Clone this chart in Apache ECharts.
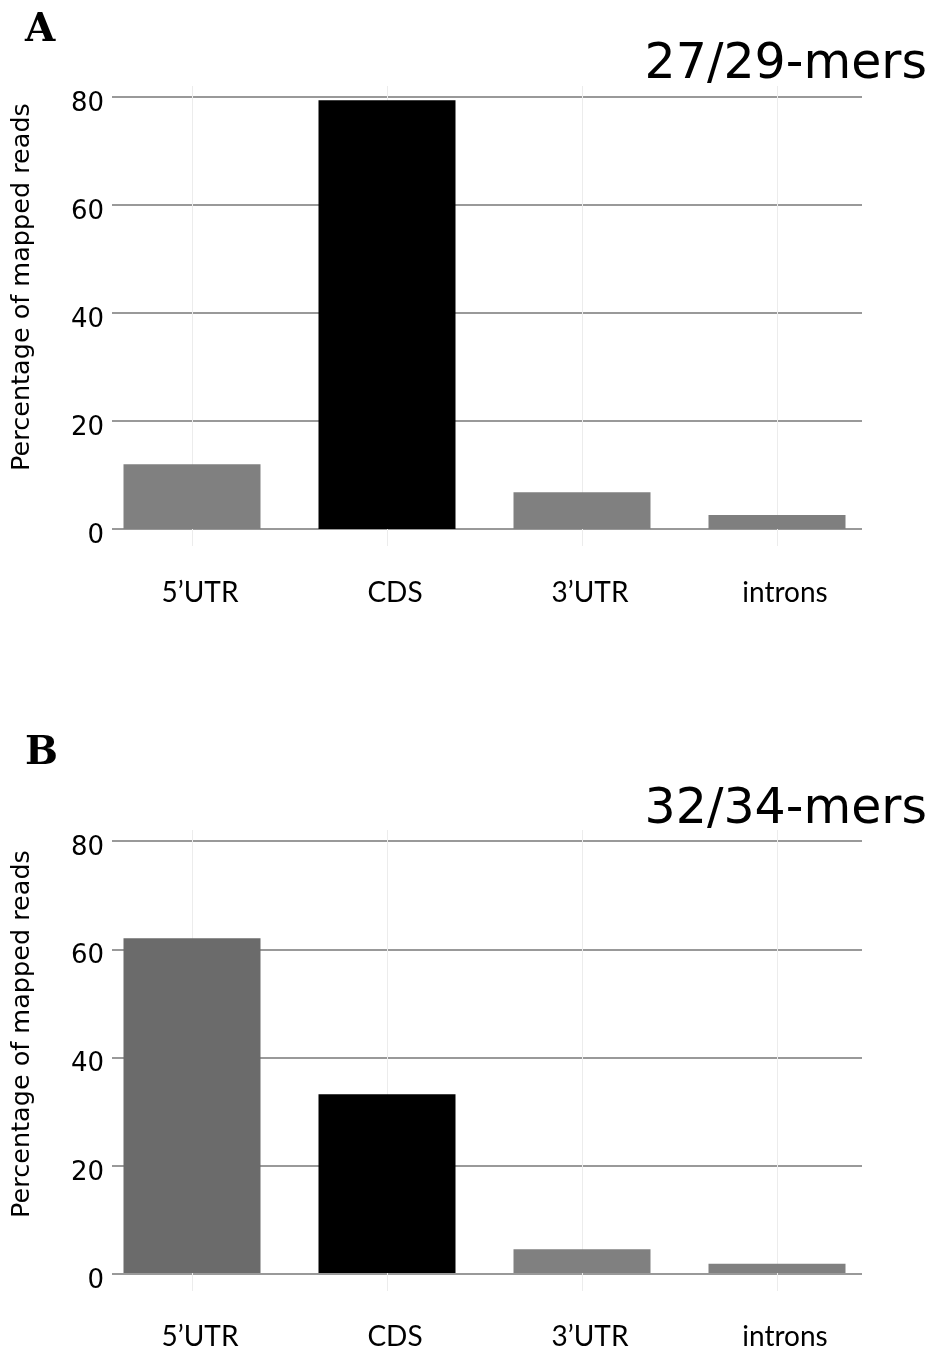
<!DOCTYPE html>
<html><head><meta charset="utf-8">
<script src="https://cdn.jsdelivr.net/npm/echarts@6/dist/echarts.min.js"></script>
<style>html,body{margin:0;padding:0;background:#fff}#c{width:935px;height:1351px}</style>
</head><body><div id="c"></div>
<script>
const categories = ["5\u2019UTR", "CDS", "3\u2019UTR", "introns"];
const merA = [12.0, 79.4, 6.8, 2.6];   // 27/29-mers
const merB = [62.0, 33.1, 4.4, 1.7];   // 32/34-mers
const yTicks = [0, 20, 40, 60, 80];
const panelLabels = ["A", "B"];
const panelTitles = ["27/29-mers", "32/34-mers"];
const yTitle = "Percentage of mapped reads";

const colorsA = ["#808080", "#000000", "#808080", "#7f7f7f"];
const colorsB = ["#6b6b6b", "#000000", "#808080", "#808080"];

const chart = echarts.init(document.getElementById('c'), null, {renderer: 'canvas'});
const panels = [{top: 97, h: 432, data: merA, colors: colorsA}, {top: 841, h: 433, data: merB, colors: colorsB}];
const grids = [], xAxes = [], yAxes = [], series = [], graphics = [];
const yMax = yTicks[yTicks.length - 1], yInt = yTicks[1] - yTicks[0];
panels.forEach((p, i) => {
  const g0 = grids.length;
  grids.push({left: 112, width: 750, top: p.top, height: p.h});
  grids.push({left: 94.5, width: 780, top: p.top, height: p.h});
  grids.push({left: 192, width: 585, top: p.top - 11, height: p.h + 28});
  xAxes.push({gridIndex: g0, type: 'category', data: categories, show: false});
  yAxes.push({gridIndex: g0, type: 'value', min: 0, max: yMax, interval: yInt,
    axisLine: {show: false}, axisTick: {show: false},
    axisLabel: {fontFamily: 'DejaVu Sans', fontSize: 26, color: '#000', margin: 8,
      verticalAlign: 'top', lineHeight: 14},
    splitLine: {lineStyle: {color: '#999', width: 2}}});
  xAxes.push({gridIndex: g0 + 1, type: 'category', data: categories,
    axisLine: {show: false}, axisTick: {show: false}, splitLine: {show: false},
    axisLabel: {fontFamily: 'Lato', fontSize: 28, color: '#000', margin: 50, padding: [0, 0, 0, 16]}});
  yAxes.push({gridIndex: g0 + 1, type: 'value', min: 0, max: yMax, show: false, splitLine: {show: false}});
  xAxes.push({gridIndex: g0 + 2, type: 'category', data: categories, boundaryGap: false,
    axisLine: {show: false}, axisTick: {show: false}, axisLabel: {show: false},
    splitLine: {show: true, lineStyle: {color: '#ececec', width: 1}}});
  yAxes.push({gridIndex: g0 + 2, type: 'value', show: false, splitLine: {show: false}});
  series.push({type: 'bar', xAxisIndex: xAxes.length - 1, yAxisIndex: yAxes.length - 1, data: [], silent: true});
  series.push({type: 'bar', xAxisIndex: xAxes.length - 2, yAxisIndex: yAxes.length - 2, barWidth: 137,
    data: p.data.map((v, k) => ({value: v, itemStyle: {color: p.colors[k]}})), z: 5});
});

graphics.push({type: 'text', left: 25, top: 11, style: {text: panelLabels[0], font: 'bold 39px "DejaVu Serif"', fill: '#000'}});
graphics.push({type: 'text', left: 25, top: 734, style: {text: panelLabels[1], font: 'bold 39px "DejaVu Serif"', fill: '#000'}});
graphics.push({type: 'text', right: 8, top: 41, style: {text: panelTitles[0], font: '49px "DejaVu Sans"', fill: '#000'}});
graphics.push({type: 'text', right: 8, top: 786, style: {text: panelTitles[1], font: '49px "DejaVu Sans"', fill: '#000'}});
[287, 1034].forEach(cy => {
  graphics.push({type: 'text', x: 22, y: cy, rotation: Math.PI / 2,
    style: {text: yTitle, font: '25.5px "DejaVu Sans"', fill: '#000', textAlign: 'center', textVerticalAlign: 'middle'}});
});

chart.setOption({animation: false, backgroundColor: '#fff', grid: grids, xAxis: xAxes, yAxis: yAxes, series: series, graphic: graphics});
</script></body></html>
